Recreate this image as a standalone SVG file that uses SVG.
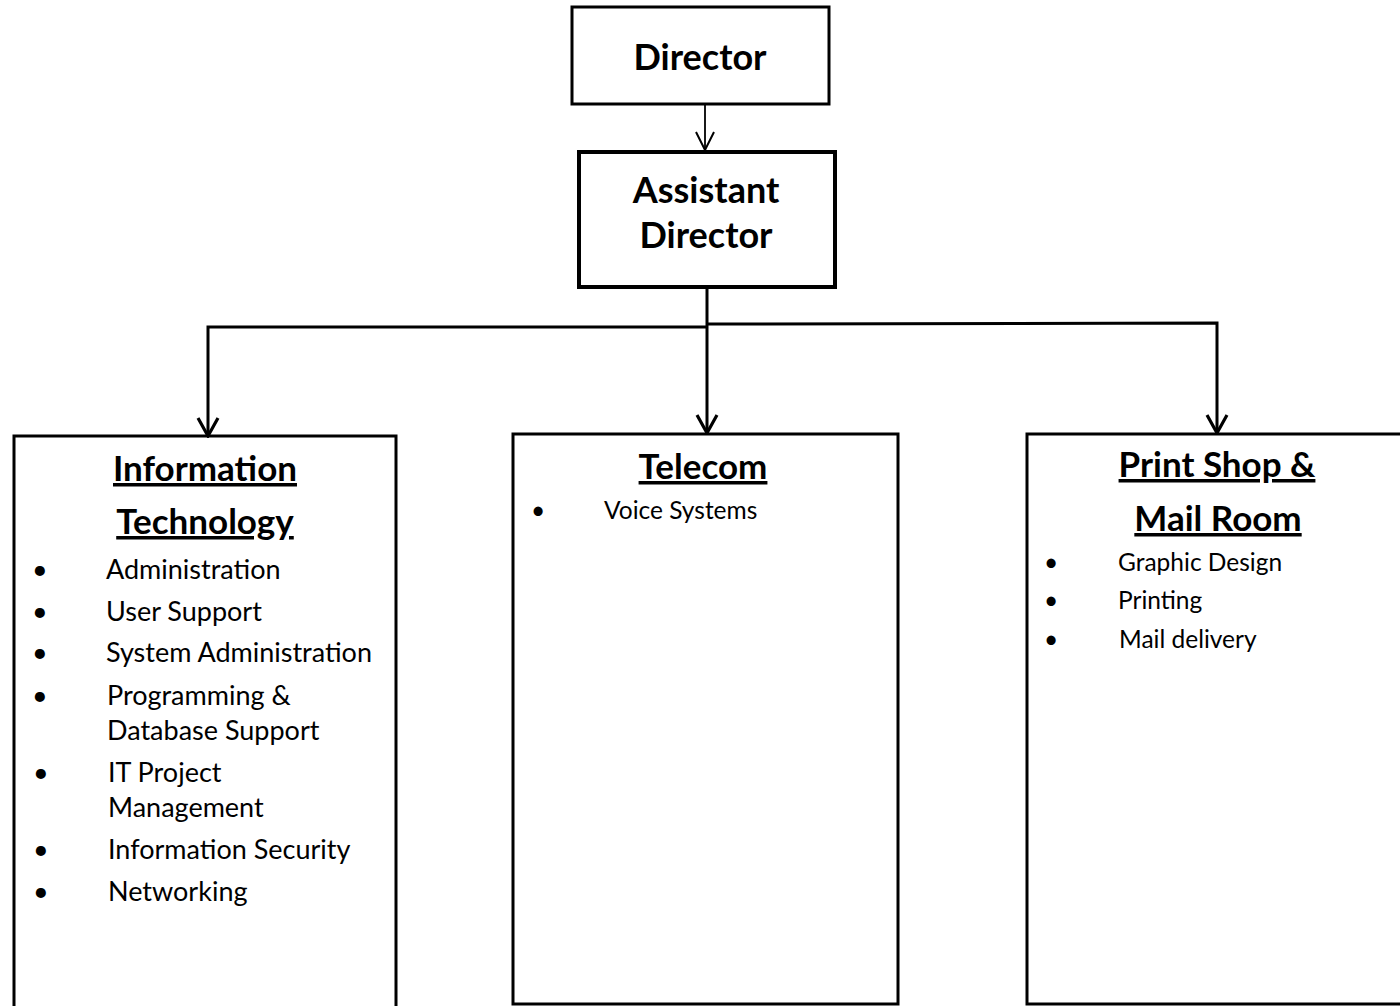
<svg xmlns="http://www.w3.org/2000/svg" width="1400" height="1006" viewBox="0 0 1400 1006">
<defs>
<style>
.box{fill:#fff;stroke:#000;stroke-width:3}
.thick{stroke-width:4}
.title{font-family:Lato,"Open Sans","Liberation Sans",sans-serif;font-weight:bold;font-size:36px;fill:#000;text-anchor:middle}
.head{font-family:Lato,"Open Sans","Liberation Sans",sans-serif;font-weight:bold;font-size:35px;fill:#000;text-anchor:middle;text-decoration:underline}
.item{font-family:Lato,"Open Sans","Liberation Sans",sans-serif;font-size:27px;fill:#000}
.small{font-size:24.5px}
.conn{fill:none;stroke:#000;stroke-width:3}
.thin{stroke-width:1.8}
</style>
<marker id="arr" viewBox="0 0 22 24" refX="20" refY="12" markerWidth="22" markerHeight="24" markerUnits="userSpaceOnUse" orient="auto">
<path d="M2,2 L20,12 L2,22" fill="none" stroke="#000" stroke-width="3.2"/>
</marker>
<marker id="arrs" viewBox="0 0 22 24" refX="20" refY="12" markerWidth="22" markerHeight="24" markerUnits="userSpaceOnUse" orient="auto">
<path d="M2,3 L20,12 L2,21" fill="none" stroke="#000" stroke-width="2"/>
</marker>
</defs>
<rect width="1400" height="1006" fill="#fff"/>
<g id="director">
<rect class="box" x="572" y="7" width="257" height="97"/>
<text class="title" x="700" y="70">Director</text>
</g>
<g id="assistant-director">
<rect class="box thick" x="579" y="152" width="256" height="135"/>
<text class="title" x="706" y="203">Assistant</text>
<text class="title" x="706" y="248">Director</text>
</g>
<g id="information-technology">
<rect class="box" x="14" y="436" width="382" height="580"/>
<text class="head" x="205" y="481">Information</text>
<text class="head" x="205" y="534">Technology</text>
<g class="item">
<text x="32" y="579">•</text><text x="106" y="579">Administration</text>
<text x="32" y="621">•</text><text x="106" y="621">User Support</text>
<text x="32" y="662">•</text><text x="106" y="662">System Administration</text>
<text x="32" y="705">•</text><text x="107" y="705">Programming &amp;</text>
<text x="107" y="740">Database Support</text>
<text x="33" y="782">•</text><text x="108" y="782">IT Project</text>
<text x="108" y="817">Management</text>
<text x="33" y="859">•</text><text x="108" y="859">Information Security</text>
<text x="33" y="901">•</text><text x="108" y="901">Networking</text>
</g>
</g>
<g id="telecom">
<rect class="box" x="513" y="434" width="385" height="570"/>
<text class="head" x="703" y="479">Telecom</text>
<g class="item small">
<text x="531" y="519">•</text><text x="604" y="519">Voice Systems</text>
</g>
</g>
<g id="print-shop-mail-room">
<rect class="box" x="1027" y="434" width="390" height="570"/>
<text class="head" x="1217" y="477">Print Shop &amp;</text>
<text class="head" x="1218" y="531">Mail Room</text>
<g class="item small">
<text x="1044" y="571">•</text><text x="1118" y="571">Graphic Design</text>
<text x="1044" y="609">•</text><text x="1118" y="609">Printing</text>
<text x="1044" y="648">•</text><text x="1119" y="648">Mail delivery</text>
</g>
</g>
<g id="connectors">
<path class="conn thin" d="M705,104 L705,150" marker-end="url(#arrs)"/>
<path class="conn" d="M707,288 L707,433" marker-end="url(#arr)"/>
<path class="conn" d="M707,327 L208,327 L208,436" marker-end="url(#arr)"/>
<path class="conn" d="M707,324 L1217,323 L1217,433" marker-end="url(#arr)"/>
</g>
</svg>
